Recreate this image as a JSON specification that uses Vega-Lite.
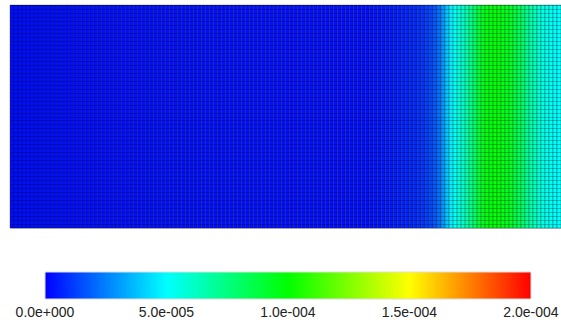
{
  "$schema": "https://vega.github.io/schema/vega-lite/v6.json",
  "width": 551,
  "height": 223,
  "autosize": {"type": "none"},
  "padding": {"left": 10, "top": 5, "right": 0, "bottom": 99},
  "background": "#ffffff",
  "config": {"view": {"stroke": null}},
  "data": {"values": [
    {"c":0,"v":3e-6},{"c":1,"v":3e-6},{"c":2,"v":3e-6},{"c":3,"v":3e-6},{"c":4,"v":3e-6},{"c":5,"v":3e-6},{"c":6,"v":3e-6},{"c":7,"v":3e-6},{"c":8,"v":3e-6},{"c":9,"v":3e-6},
    {"c":10,"v":3e-6},{"c":11,"v":3e-6},{"c":12,"v":3e-6},{"c":13,"v":3e-6},{"c":14,"v":3e-6},{"c":15,"v":3e-6},{"c":16,"v":3e-6},{"c":17,"v":3e-6},{"c":18,"v":3e-6},{"c":19,"v":3e-6},
    {"c":20,"v":3e-6},{"c":21,"v":3e-6},{"c":22,"v":3e-6},{"c":23,"v":3e-6},{"c":24,"v":3e-6},{"c":25,"v":3e-6},{"c":26,"v":3e-6},{"c":27,"v":3e-6},{"c":28,"v":3e-6},{"c":29,"v":3e-6},
    {"c":30,"v":3e-6},{"c":31,"v":3e-6},{"c":32,"v":3e-6},{"c":33,"v":3e-6},{"c":34,"v":3e-6},{"c":35,"v":3e-6},{"c":36,"v":3e-6},{"c":37,"v":3e-6},{"c":38,"v":3e-6},{"c":39,"v":3e-6},
    {"c":40,"v":3e-6},{"c":41,"v":3e-6},{"c":42,"v":3e-6},{"c":43,"v":3e-6},{"c":44,"v":3e-6},{"c":45,"v":3e-6},{"c":46,"v":3e-6},{"c":47,"v":3e-6},{"c":48,"v":3e-6},{"c":49,"v":3e-6},
    {"c":50,"v":3e-6},{"c":51,"v":3e-6},{"c":52,"v":3e-6},{"c":53,"v":3e-6},{"c":54,"v":3e-6},{"c":55,"v":3e-6},{"c":56,"v":3e-6},{"c":57,"v":3e-6},{"c":58,"v":3e-6},{"c":59,"v":3e-6},
    {"c":60,"v":3e-6},{"c":61,"v":3e-6},{"c":62,"v":3e-6},{"c":63,"v":3e-6},{"c":64,"v":3e-6},{"c":65,"v":3e-6},{"c":66,"v":3e-6},{"c":67,"v":3e-6},{"c":68,"v":3e-6},{"c":69,"v":3e-6},
    {"c":70,"v":3e-6},{"c":71,"v":3e-6},{"c":72,"v":3e-6},{"c":73,"v":3e-6},{"c":74,"v":3e-6},{"c":75,"v":3e-6},{"c":76,"v":3e-6},{"c":77,"v":3e-6},{"c":78,"v":3e-6},{"c":79,"v":3e-6},
    {"c":80,"v":3e-6},{"c":81,"v":3e-6},{"c":82,"v":3e-6},{"c":83,"v":3e-6},{"c":84,"v":3e-6},{"c":85,"v":3e-6},{"c":86,"v":3e-6},{"c":87,"v":3e-6},{"c":88,"v":3e-6},{"c":89,"v":3e-6},
    {"c":90,"v":3.5e-6},{"c":91,"v":4e-6},{"c":92,"v":4e-6},{"c":93,"v":4.5e-6},{"c":94,"v":5e-6},{"c":95,"v":5e-6},{"c":96,"v":5.5e-6},{"c":97,"v":6e-6},{"c":98,"v":6.5e-6},{"c":99,"v":7e-6},
    {"c":100,"v":7.5e-6},{"c":101,"v":8e-6},{"c":102,"v":9e-6},{"c":103,"v":1.0e-5},{"c":104,"v":1.2e-5},{"c":105,"v":1.4e-5},{"c":106,"v":1.7e-5},{"c":107,"v":2.2e-5},{"c":108,"v":3.0e-5},{"c":109,"v":3.9e-5},
    {"c":110,"v":4.7e-5},{"c":111,"v":5.2e-5},{"c":112,"v":5.6e-5},{"c":113,"v":6.1e-5},{"c":114,"v":6.6e-5},{"c":115,"v":7.3e-5},{"c":116,"v":8.1e-5},{"c":117,"v":8.9e-5},{"c":118,"v":9.4e-5},{"c":119,"v":9.7e-5},
    {"c":120,"v":9.8e-5},{"c":121,"v":9.8e-5},{"c":122,"v":9.7e-5},{"c":123,"v":9.6e-5},{"c":124,"v":9.4e-5},{"c":125,"v":9.2e-5},{"c":126,"v":8.8e-5},{"c":127,"v":8.3e-5},{"c":128,"v":7.8e-5},{"c":129,"v":7.2e-5},
    {"c":130,"v":6.7e-5},{"c":131,"v":6.2e-5},{"c":132,"v":5.8e-5},{"c":133,"v":5.5e-5},{"c":134,"v":5.3e-5},{"c":135,"v":5.2e-5},{"c":136,"v":5.1e-5},{"c":137,"v":5.0e-5}
  ]},
  "mark": {"type": "rect", "stroke": "#000000", "strokeOpacity": 0.25, "strokeWidth": 1},
  "encoding": {
    "x": {"field": "c", "type": "ordinal", "sort": "ascending",
          "scale": {"paddingInner": 0, "paddingOuter": 0}, "axis": null},
    "y": {"datum": 0, "type": "quantitative",
          "scale": {"domain": [0, 56], "nice": false, "zero": false},
          "axis": {"grid": true, "labels": false, "ticks": false, "domain": false, "title": null,
                   "values": [0,1,2,3,4,5,6,7,8,9,10,11,12,13,14,15,16,17,18,19,20,21,22,23,24,25,26,27,28,29,30,31,32,33,34,35,36,37,38,39,40,41,42,43,44,45,46,47,48,49,50,51,52,53,54,55,56],
                   "gridColor": "#000000", "gridOpacity": 0.25, "gridWidth": 1, "zindex": 1}},
    "y2": {"datum": 56},
    "color": {"field": "v", "type": "quantitative",
              "scale": {"type": "linear", "domain": [0, 0.00005, 0.0001, 0.00015, 0.0002],
                        "range": ["#0000ff", "#00ffff", "#00ff00", "#ffff00", "#ff0000"],
                        "interpolate": "rgb"},
              "legend": {"orient": "none", "legendX": 35, "legendY": 267, "direction": "horizontal",
                         "title": null, "padding": 0,
                         "gradientLength": 486, "gradientThickness": 27,
                         "gradientStrokeColor": "#dddddd", "gradientStrokeWidth": 1,
                         "values": [1e-12, 0.00005, 0.0001, 0.00015, 0.000199999],
                         "labelExpr": "replace(replace(format(round(datum.value * 1000000) / 1000000, '.1e'), 'e-', 'e-00'), 'e+', 'e+00')",
                         "labelAlign": "center", "labelFont": "Liberation Sans", "labelFontSize": 14,
                         "labelColor": "#222222", "labelOffset": 7, "labelOverlap": false}}
  }
}
